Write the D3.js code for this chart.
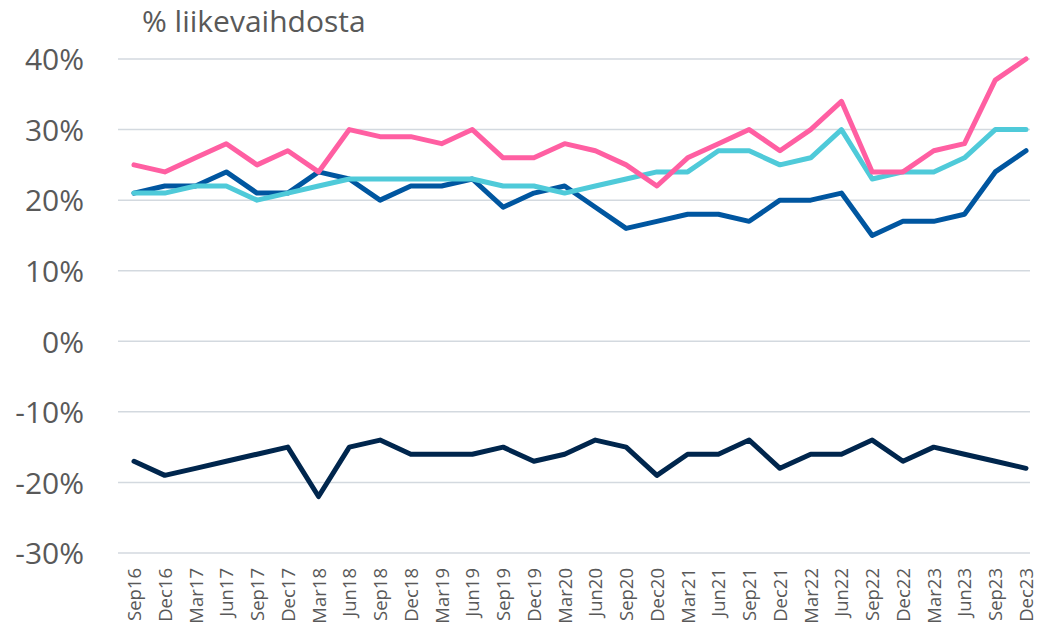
<!DOCTYPE html>
<html>
<head>
<meta charset="utf-8">
<script src="https://cdn.jsdelivr.net/npm/d3@7"></script>
<style>
  html, body { margin: 0; padding: 0; background: #ffffff; }
  svg { display: block; }
  text { font-family: "Open Sans", "Noto Sans", sans-serif; fill: #595959; }
</style>
</head>
<body>
<svg id="chart" width="1038" height="629"></svg>
<script>
// Quarterly periods
const quarters = ["Sep16","Dec16","Mar17","Jun17","Sep17","Dec17","Mar18","Jun18","Sep18","Dec18",
  "Mar19","Jun19","Sep19","Dec19","Mar20","Jun20","Sep20","Dec20","Mar21","Jun21",
  "Sep21","Dec21","Mar22","Jun22","Sep22","Dec22","Mar23","Jun23","Sep23","Dec23"];

// Series, % of turnover
const pinkSeries = [25,24,26,28,25,27,24,30,29,29,28,30,26,26,28,27,25,22,26,28,30,27,30,34,24,24,27,28,37,40];
const cyanSeries = [21,21,22,22,20,21,22,23,23,23,23,23,22,22,21,22,23,24,24,27,27,25,26,30,23,24,24,26,30,30];
const blueSeries = [21,22,22,24,21,21,24,23,20,22,22,23,19,21,22,19,16,17,18,18,17,20,20,21,15,17,17,18,24,27];
const navySeries = [-17,-19,-18,-17,-16,-15,-22,-15,-14,-16,-16,-16,-15,-17,-16,-14,-15,-19,-16,-16,-14,-18,-16,-16,-14,-17,-15,-16,-17,-18];

const yTicks = [-30,-20,-10,0,10,20,30,40];
const yTitle = "% liikevaihdosta";

const series = [
  { values: navySeries, color: "#00264D" },
  { values: blueSeries, color: "#0056A0" },
  { values: cyanSeries, color: "#4FCAD9" },
  { values: pinkSeries, color: "#FF5FA2" }
];

const svg = d3.select("#chart");

const x = d3.scalePoint().domain(quarters).range([134, 1026]);
const y = d3.scaleLinear().domain([-30, 40]).range([553, 59]);

// Horizontal gridlines
svg.append("g")
  .selectAll("line")
  .data(yTicks)
  .join("line")
  .attr("x1", 118).attr("x2", 1030)
  .attr("y1", d => y(d)).attr("y2", d => y(d))
  .attr("stroke", "#D3D9DF")
  .attr("stroke-width", 1.5);

// Y axis labels
const yAxis = d3.axisLeft(y).tickValues(yTicks).tickFormat(d => d + "%").tickSize(0).tickPadding(0);
const gy = svg.append("g").attr("transform", "translate(84,0)").call(yAxis);
gy.select(".domain").remove();
gy.selectAll("text")
  .attr("font-size", 30)
  .attr("dy", "0.36em")
  .style("font-family", "'Open Sans', 'Noto Sans', sans-serif")
  .attr("fill", "#595959");

// X axis labels (rotated)
const xAxis = d3.axisBottom(x).tickSize(0).tickPadding(0);
const gx = svg.append("g").attr("transform", "translate(0,568)").call(xAxis);
gx.select(".domain").remove();
gx.selectAll("text")
  .attr("font-size", 18.5)
  .attr("text-anchor", "end")
  .attr("transform", "rotate(-90)")
  .attr("x", 0)
  .attr("y", 0)
  .attr("dx", 0)
  .attr("dy", "0.35em")
  .style("font-family", "'Open Sans', 'Noto Sans', sans-serif")
  .attr("fill", "#595959");

// Title
svg.append("text")
  .attr("x", 142).attr("y", 32)
  .attr("font-size", 30)
  .text(yTitle);

// Lines
const line = d3.line()
  .x((d, i) => x(quarters[i]))
  .y(d => y(d));

svg.append("g")
  .selectAll("path")
  .data(series)
  .join("path")
  .attr("d", d => line(d.values))
  .attr("fill", "none")
  .attr("stroke", d => d.color)
  .attr("stroke-width", 5)
  .attr("stroke-linejoin", "round")
  .attr("stroke-linecap", "round");
</script>
</body>
</html>
